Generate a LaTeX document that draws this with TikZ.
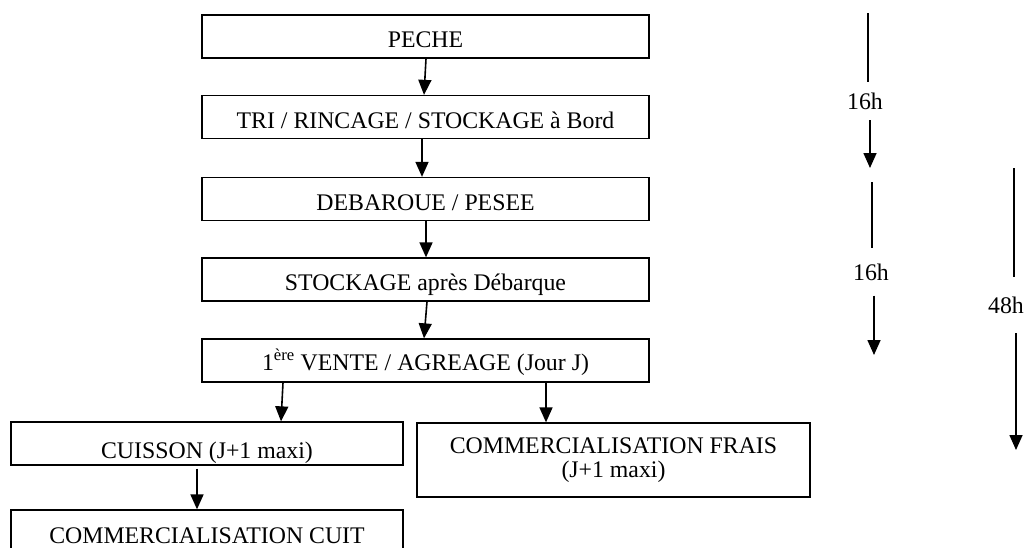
\documentclass[tikz,border=0pt]{standalone}
\usepackage{fontspec}
\setmainfont{Liberation Serif}
\usetikzlibrary{arrows.meta,positioning}

\begin{document}
\begin{tikzpicture}[x=1pt, y=-1pt,
    every node/.style={font=\fontsize{23.8}{22}\selectfont},
    cadre/.style={draw, line width=1.3pt, inner sep=0pt},
    etape/.style={cadre, minimum height=43pt, text height=#1, text depth=0pt},
    etape/.default=21pt,
    fleche/.style={-{Triangle[width=13pt,length=15pt]}, line width=1.6pt},
    trait/.style={line width=1.6pt},
    duree/.style={inner xsep=0pt, text height=16pt, text depth=0pt}]
    \useasboundingbox (0,0) rectangle (1025,547);

    % Etapes principales
    \node[etape, minimum width=447pt] (peche) at (425.5,36.5) {PECHE};
    \node[etape=22pt, minimum width=447pt] (tri) at (425.5,117) {TRI / RINCAGE / STOCKAGE à Bord};
    \node[etape=22pt, minimum width=447pt] (deb) at (425.5,199) {DEBAROUE / PESEE};
    \node[etape, minimum width=447pt] (stock) at (425.5,279.5) {STOCKAGE après Débarque};
    \node[etape=19pt, minimum width=447pt] (vente) at (425.5,360.5) {1\textsuperscript{ère} VENTE / AGREAGE (Jour J)};

    % Branches
    \node[etape=29pt, minimum width=392pt] (cuisson) at (207,443.5) {CUISSON (J+1 maxi)};
    \node[cadre, minimum width=393pt, minimum height=74pt, align=center,
          font=\fontsize{23.8}{24.5}\selectfont] (frais) at (613.5,460)
        {COMMERCIALISATION FRAIS\\(J+1 maxi)};
    \node[etape=23pt, minimum width=392pt] (cuit) at (207,531.5) {COMMERCIALISATION CUIT};

    % Fleches
    \draw[fleche] ([xshift=0.5pt]peche.south) -- ([xshift=-1.5pt]tri.north);
    \draw[fleche] ([xshift=-3.5pt]tri.south) -- ([xshift=-3.5pt]deb.north);
    \draw[fleche] ([xshift=0.5pt]deb.south) -- ([xshift=0.5pt]stock.north);
    \draw[fleche] ([xshift=1.5pt]stock.south) -- ([xshift=-1.5pt]vente.north);
    \draw[fleche] ([xshift=-142.5pt]vente.south) -- ([xshift=74pt]cuisson.north);
    \draw[fleche] ([xshift=120.5pt]vente.south) -- ([xshift=-67.5pt]frais.north);
    \draw[fleche] ([xshift=-10pt,yshift=-3pt]cuisson.south) -- ([xshift=-10pt]cuit.north);

    % Durees
    \node[duree, inner ysep=11pt] (h1) at (865,101) {16h};
    \node[duree, inner ysep=15.5pt] (h2) at (871,272) {16h};
    \node[duree, inner ysep=20pt] (h3) at (1006,305) {48h};
    \coordinate (h1a) at (868,13);
    \coordinate (h1b) at (870,168);
    \coordinate (h2a) at (872,182);
    \coordinate (h2b) at (874,355);
    \coordinate (h3a) at (1014,168);
    \coordinate (h3b) at (1016,450);
    \draw[trait] (h1a) -- (h1a |- h1.north);
    \draw[fleche] (h1b |- h1.south) -- (h1b);
    \draw[trait] (h2a) -- (h2a |- h2.north);
    \draw[fleche] (h2b |- h2.south) -- (h2b);
    \draw[trait] (h3a) -- (h3a |- h3.north);
    \draw[fleche] (h3b |- h3.south) -- (h3b);
\end{tikzpicture}
\end{document}
